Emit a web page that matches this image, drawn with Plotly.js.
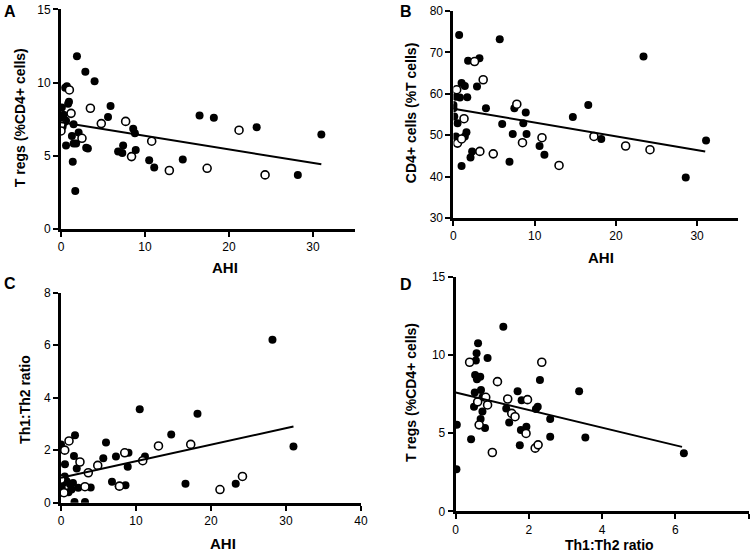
<!DOCTYPE html>
<html><head><meta charset="utf-8">
<script src="https://cdn.plot.ly/plotly-3.0.1.min.js"></script>
<style>html,body{margin:0;padding:0;background:#fff}#plot{width:752px;height:552px}</style>
</head><body><div id="plot"></div>
<script>
// Panel A: AHI vs T regs (%CD4+ cells)
const aFilledAHI  = [1.9, 2.9, 4.0, 0.5, 0.7, 0.95, 0.85, 5.9, 0.1, 5.6, 0.0, 0.3, 1.5, 16.5, 18.2, 23.3, 31.0, 8.6, 8.8, 2.1, 1.3, 3.2, 3.0, 7.4, 0.6, 1.5, 1.8, 6.8, 7.3, 8.9, 10.5, 11.1, 14.5, 1.4, 28.2, 1.7, 0.2, 0.4, 0.0, 0.6];
const aFilledTreg = [11.8, 10.75, 10.1, 9.65, 9.75, 8.7, 8.55, 8.4, 8.3, 7.65, 7.65, 7.8, 7.15, 7.75, 7.6, 6.95, 6.45, 6.85, 6.55, 6.6, 6.35, 5.5, 5.55, 5.7, 5.7, 5.85, 5.85, 5.3, 5.2, 5.4, 4.7, 4.2, 4.75, 4.6, 3.7, 2.6, 7.0, 7.3, 6.8, 7.4];
const aOpenAHI    = [0.0, 0.0, 1.0, 1.2, 2.5, 3.5, 4.8, 7.7, 8.4, 10.8, 12.9, 17.4, 21.2, 24.3];
const aOpenTreg   = [7.15, 6.7, 9.5, 7.9, 6.2, 8.25, 7.2, 7.35, 4.95, 6.0, 4.0, 4.15, 6.75, 3.7];
const aFitAHI  = [0, 31];
const aFitTreg = [7.3, 4.42];

// Panel B: AHI vs CD4+ cells (%T cells)
const bFilledAHI = [0.7, 5.7, 23.4, 1.8, 3.2, 1.0, 1.4, 2.9, 1.7, 0.8, 0.3, 0.0, 0.0, 4.0, 7.5, 8.9, 16.6, 14.7, 0.1, 0.5, 6.0, 8.6, 1.6, 1.4, 7.3, 9.0, 18.2, 10.6, 11.2, 31.1, 2.3, 2.1, 6.9, 1.0, 28.6, 0.3];
const bFilledCD4 = [74.2, 73.2, 69.0, 68.0, 68.6, 62.6, 61.9, 61.8, 59.2, 59.1, 59.3, 57.3, 56.5, 56.5, 56.5, 55.5, 57.3, 54.4, 54.5, 52.9, 52.7, 52.9, 50.7, 49.7, 50.3, 50.3, 49.1, 47.4, 45.3, 48.7, 46.1, 44.6, 43.6, 42.6, 39.8, 49.7];
const bOpenAHI = [0.4, 0.5, 1.0, 1.3, 2.6, 3.25, 3.66, 4.9, 7.8, 8.5, 10.9, 13.0, 17.3, 21.2, 24.2];
const bOpenCD4 = [61.0, 48.1, 49.1, 54.0, 67.8, 46.1, 63.4, 45.5, 57.5, 48.2, 49.4, 42.7, 49.7, 47.4, 46.5];
const bFitAHI = [0, 31];
const bFitCD4 = [56.4, 46.1];

// Panel C: AHI vs Th1:Th2 ratio
const cFilledAHI = [0.0, 1.87, 1.73, 0.53, 2.1, 6.0, 5.64, 7.33, 9.0, 8.9, 11.2, 10.5, 14.7, 18.2, 28.2, 31.0, 16.6, 23.3, 6.8, 8.6, 7.7, 1.8, 3.2, 3.96, 2.3, 0.1, 0.3, 0.75, 1.2, 1.4, 1.0, 0.0, 0.5, 1.6];
const cFilledRatio = [2.22, 2.57, 1.78, 1.46, 1.3, 2.29, 1.69, 1.76, 1.9, 1.37, 1.76, 3.56, 2.6, 3.39, 6.2, 2.14, 0.72, 0.72, 0.8, 0.66, 0.63, 0.03, 0.03, 0.58, 0.57, 0.57, 0.76, 0.82, 0.7, 0.5, 0.4, 0.38, 1.0, 0.75];
const cOpenAHI = [0.0, 0.5, 1.07, 2.53, 3.64, 4.9, 8.5, 10.9, 13.0, 17.3, 21.2, 24.2, 0.4, 3.2, 7.8];
const cOpenRatio = [0.89, 2.0, 2.35, 1.55, 1.14, 1.42, 1.9, 1.6, 2.16, 2.22, 0.5, 1.0, 0.38, 0.61, 0.63];
const cFitAHI = [0, 31];
const cFitRatio = [0.95, 2.9];

// Panel D: Th1:Th2 ratio vs T regs (%CD4+ cells)
const dFilledRatio = [1.3, 0.61, 0.57, 0.87, 0.55, 0.53, 0.67, 0.58, 2.3, 1.69, 3.37, 0.52, 0.69, 1.8, 0.73, 2.19, 2.24, 1.38, 0.5, 0.73, 0.68, 2.58, 1.46, 0.03, 0.8, 1.78, 1.93, 0.42, 2.58, 3.54, 1.75, 6.23, 0.02];
const dFilledTreg = [11.8, 10.75, 10.1, 9.8, 9.64, 8.72, 8.61, 8.45, 8.4, 7.67, 7.67, 7.6, 7.76, 7.1, 7.3, 6.54, 6.69, 6.58, 6.69, 6.39, 5.9, 5.9, 5.68, 5.53, 5.32, 5.2, 5.4, 4.61, 4.76, 4.72, 4.23, 3.72, 2.69];
const dOpenRatio = [0.38, 2.35, 1.14, 1.42, 1.96, 0.82, 0.87, 1.53, 1.62, 1.92, 0.64, 1.0, 2.17, 2.25, 0.6];
const dOpenTreg = [9.53, 9.53, 8.29, 7.18, 7.14, 7.29, 6.8, 6.26, 6.05, 4.98, 5.53, 3.76, 4.04, 4.25, 7.0];
const dFitRatio = [0, 6.18];
const dFitTreg = [7.6, 4.12];

const FONT = "'Liberation Sans', Arial, sans-serif";

function filled(x, y, xa, ya) {
  return {x, y, xaxis: xa, yaxis: ya, type: 'scatter', mode: 'markers', hoverinfo: 'skip',
    marker: {size: 8, color: '#000', line: {width: 0}}};
}
function open(x, y, xa, ya) {
  return {x, y, xaxis: xa, yaxis: ya, type: 'scatter', mode: 'markers', hoverinfo: 'skip',
    marker: {size: 8, color: '#fff', line: {width: 1.6, color: '#000'}}};
}
function fit(x, y, xa, ya) {
  return {x, y, xaxis: xa, yaxis: ya, type: 'scatter', mode: 'lines', hoverinfo: 'skip',
    line: {color: '#000', width: 2}};
}

const data = [
  filled(aFilledAHI, aFilledTreg, 'x', 'y'), open(aOpenAHI, aOpenTreg, 'x', 'y'), fit(aFitAHI, aFitTreg, 'x', 'y'),
  filled(bFilledAHI, bFilledCD4, 'x2', 'y2'), open(bOpenAHI, bOpenCD4, 'x2', 'y2'), fit(bFitAHI, bFitCD4, 'x2', 'y2'),
  filled(cFilledAHI, cFilledRatio, 'x3', 'y3'), open(cOpenAHI, cOpenRatio, 'x3', 'y3'), fit(cFitAHI, cFitRatio, 'x3', 'y3'),
  filled(dFilledRatio, dFilledTreg, 'x4', 'y4'), open(dOpenRatio, dOpenTreg, 'x4', 'y4'), fit(dFitRatio, dFitTreg, 'x4', 'y4')
];

function ax(domain, range, dtick, anchor) {
  return {domain, range, dtick, tick0: 0, anchor, showgrid: false, zeroline: false,
    showline: true, linecolor: '#000', linewidth: 3, ticks: 'outside', ticklen: 5, tickwidth: 2,
    tickcolor: '#000', tickfont: {family: FONT, size: 12, color: '#000'}, fixedrange: true};
}

function ann(text, x, y, angle, size) {
  return {text, x, y, xref: 'paper', yref: 'paper', showarrow: false, textangle: angle || 0,
    xanchor: 'center', yanchor: 'middle', font: {family: FONT, size: size || 14, color: '#000'}};
}

const layout = {
  width: 752, height: 552, margin: {l: 0, r: 0, t: 0, b: 0},
  paper_bgcolor: '#fff', plot_bgcolor: '#fff', showlegend: false,
  xaxis:  ax([0.0811, 0.472], [0, 35], 10, 'y'),
  yaxis:  ax([0.585, 0.983], [0, 15], 5, 'x'),
  xaxis2: ax([0.603, 0.981], [0, 35], 10, 'y2'),
  yaxis2: ax([0.605, 0.980], [30, 80], 10, 'x2'),
  xaxis3: ax([0.0811, 0.480], [0, 40], 10, 'y3'),
  yaxis3: ax([0.0893, 0.470], [0, 8], 2, 'x3'),
  xaxis4: ax([0.606, 0.9956], [0, 8], 2, 'y4'),
  yaxis4: ax([0.0737, 0.4987], [0, 15], 5, 'x4'),
  annotations: [
    ann('<b>A</b>', 0.0133, 0.980, 0, 16),
    ann('<b>B</b>', 0.540, 0.980, 0, 16),
    ann('<b>C</b>', 0.0133, 0.487, 0, 16),
    ann('<b>D</b>', 0.540, 0.484, 0, 16),
    ann('<b>T regs (%CD4+ cells)</b>', 0.0266, 0.786, -90),
    ann('<b>AHI</b>', 0.299, 0.516, 0, 15),
    ann('<b>CD4+ cells (%T cells)</b>', 0.5465, 0.795, -90),
    ann('<b>AHI</b>', 0.799, 0.534, 0, 15),
    ann('<b>Th1:Th2 ratio</b>', 0.033, 0.277, -90),
    ann('<b>AHI</b>', 0.297, 0.0163, 0, 15),
    ann('<b>T regs (%CD4+ cells)</b>', 0.5465, 0.290, -90),
    ann('<b>Th1:Th2 ratio</b>', 0.81, 0.013, 0)
  ]
};

Plotly.newPlot('plot', data, layout, {staticPlot: true, displayModeBar: false});
</script>
</body></html>
